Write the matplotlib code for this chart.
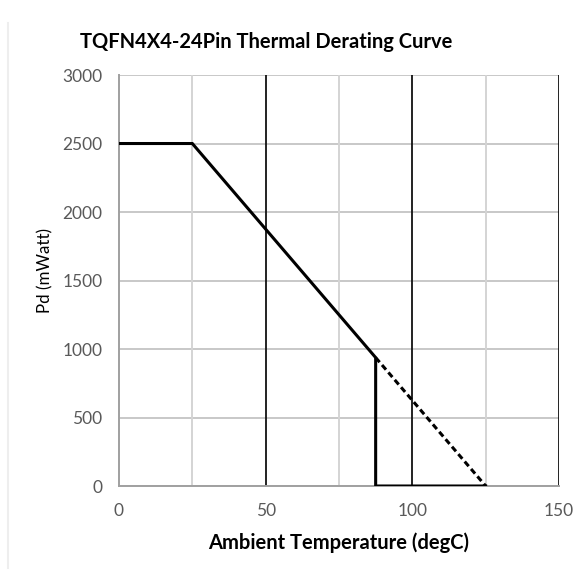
import matplotlib.pyplot as plt
from matplotlib.lines import Line2D

# derating curve (solid) and extrapolation (dashed)
temp = [0, 25, 87.5, 87.5, 125]
pd = [2500, 2500, 937.5, 0, 0]
temp_ext = [87.5, 125]
pd_ext = [937.5, 0]

xticks = [0, 50, 100, 150]
yticks = [0, 500, 1000, 1500, 2000, 2500, 3000]
light_grid = [25, 75, 125]
dark_grid = [50, 100, 150]

plt.rcParams['font.family'] = ['Lato', 'DejaVu Sans']

fig = plt.figure(figsize=(5.87, 5.74), dpi=100)
ax = fig.add_axes([0.2027, 0.1533, 0.7496, 0.716])

for y in yticks:
    ax.axhline(y, color='#c8c8c8', lw=1.4, zorder=1)
for x in light_grid:
    ax.axvline(x, color='#d4d4d4', lw=1.4, zorder=1)
for x in dark_grid:
    ax.axvline(x, color='#111111', lw=1.3, zorder=2)

ax.plot(temp, pd, color='black', lw=2.2, zorder=3, solid_joinstyle='miter')
ax.plot(temp_ext, pd_ext, color='black', lw=2.2, ls=(0, (2, 1.2)), zorder=3)

ax.set_xlim(0, 150)
ax.set_ylim(0, 3000)
ax.set_xticks(xticks)
ax.set_yticks(yticks)
ax.tick_params(length=0, labelsize=12.5, labelcolor='#595959', pad=12)

for s in ['top', 'right']:
    ax.spines[s].set_visible(False)
for s in ['left', 'bottom']:
    ax.spines[s].set_color('#a0a0a0')
    ax.spines[s].set_linewidth(1.4)

fig.text(0.453, 0.927, 'TQFN4X4-24Pin Thermal Derating Curve', fontsize=14.5,
         fontweight='bold', ha='center', va='center')
ax.set_xlabel('Ambient Temperature (degC)', fontsize=14.5, fontweight='bold',
              labelpad=10)
ax.set_ylabel('Pd (mWatt)', fontsize=12.2, labelpad=6)
ax.yaxis.label.set_y(0.525)

fig.add_artist(Line2D([0.014, 0.014], [0.01, 0.96], color='#eeeeee', lw=1.5))

fig.savefig('out.png', dpi=100)
